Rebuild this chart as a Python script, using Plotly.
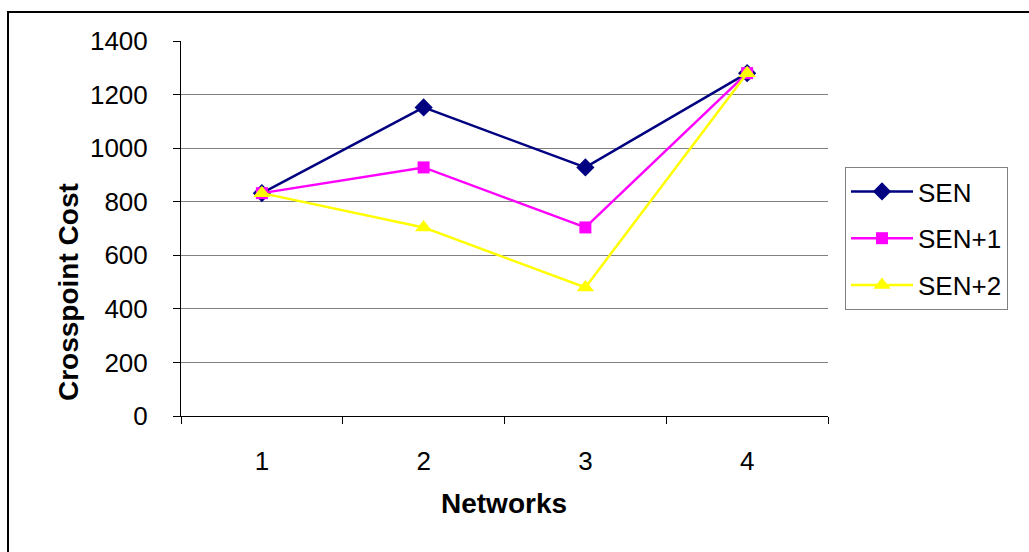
import plotly.graph_objects as go

networks = [1, 2, 3, 4]
network_labels = ["1", "2", "3", "4"]
sen = [832, 1152, 928, 1280]
sen_plus1 = [832, 928, 704, 1280]
sen_plus2 = [832, 704, 480, 1280]
y_ticks = [0, 200, 400, 600, 800, 1000, 1200, 1400]

W, H = 1029, 552
L, R, T, B = 181, 828, 41, 416

def px_x(p):
    return (p - L) / (R - L)

def px_y(p):
    return (B - p) / (B - T)

FONT = "Liberation Sans, Arial, sans-serif"

fig = go.Figure()
series = [
    ("SEN", sen, "#000080", "diamond", 14),
    ("SEN+1", sen_plus1, "#FF00FF", "square", 12),
    ("SEN+2", sen_plus2, "#FFFF00", "triangle-up", 15),
]
for i, (name, vals, col, sym, size) in enumerate(series):
    fig.add_trace(go.Scatter(
        x=networks, y=vals, name=name, mode="lines+markers",
        line=dict(color=col, width=2.5),
        marker=dict(symbol=sym, size=size, color=col, line=dict(width=0)),
        legendgroup=f"g{i}",
    ))

fig.update_layout(
    width=W, height=H,
    margin=dict(l=L, r=W - R, t=T, b=H - B),
    paper_bgcolor="white", plot_bgcolor="white",
    font=dict(family=FONT, size=26, color="black"),
    showlegend=True,
    legend=dict(
        x=px_x(845), y=px_y(167), xanchor="left", yanchor="top",
        bordercolor="#808080", borderwidth=1, bgcolor="white",
        font=dict(family=FONT, size=26, color="black"),
        traceorder="grouped", tracegroupgap=10, itemwidth=62,
    ),
    xaxis=dict(
        range=[0.5, 4.5], tickvals=networks, ticktext=network_labels,
        ticks="", showgrid=False, zeroline=False,
        showline=True, linecolor="black", linewidth=1,
        ticklabelstandoff=22,
        tickfont=dict(size=26),
        minor=dict(tickvals=[0.5, 1.5, 2.5, 3.5, 4.5], ticks="outside",
                   ticklen=7, tickcolor="black", showgrid=False),
    ),
    yaxis=dict(
        range=[0, 1400], tickvals=y_ticks,
        ticks="outside", ticklen=7, tickcolor="black",
        showgrid=True, gridcolor="#808080", gridwidth=1,
        zeroline=False, showline=True, linecolor="black", linewidth=1,
        ticklabelstandoff=20,
        tickfont=dict(size=26),
    ),
    shapes=[dict(type="rect", xref="paper", yref="paper",
                 x0=px_x(8), y0=px_y(12), x1=px_x(1100), y1=px_y(620),
                 line=dict(color="black", width=2), layer="below")],
    annotations=[
        dict(text="<b>Networks</b>", xref="paper", yref="paper",
             x=px_x(504), y=px_y(503), showarrow=False,
             xanchor="center", yanchor="middle", font=dict(size=28)),
        dict(text="<b>Crosspoint Cost</b>", xref="paper", yref="paper",
             x=px_x(68), y=px_y(292), showarrow=False, textangle=-90,
             xanchor="center", yanchor="middle", font=dict(size=28)),
    ],
)

fig.write_html("out.html", config={"displayModeBar": False},
               post_script="document.body.style.margin='0';")
